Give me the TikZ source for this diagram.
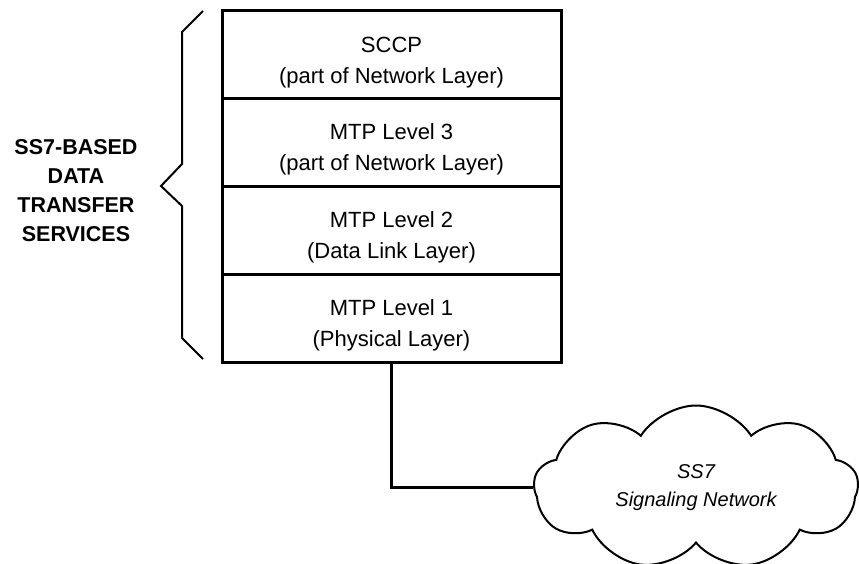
\documentclass[tikz,border=0pt]{standalone}
\usepackage{fontspec}
\setmainfont{Liberation Sans}
\usetikzlibrary{calc}
\usetikzlibrary{positioning}
\usetikzlibrary{shapes.symbols}

\tikzset{
  layer/.style={draw, line width=3pt, outer sep=0pt, minimum width=339pt,
    minimum height=87.75pt, align=center, font=\fontsize{22}{31}\selectfont,
    execute at begin node={\rule{0pt}{61pt}}},
  sidetext/.style={align=center, font=\fontsize{21.5}{29}\selectfont\bfseries},
  netcloud/.style={cloud, draw, line width=2pt, cloud puffs=9, cloud puff arc=115,
    cloud ignores aspect, minimum width=324pt, minimum height=164pt, align=center,
    font=\fontsize{20}{28}\selectfont\itshape},
  brace/.style={line width=2pt, line join=miter},
  wire/.style={line width=3pt},
}

\begin{document}
\begin{tikzpicture}[x=1pt,y=-1pt]
\useasboundingbox (0,0) rectangle (859,564);

% protocol stack
\coordinate (stacktop) at (391.5,11);
\node[layer, anchor=north] (sccp) at (stacktop) {SCCP\\(part of Network Layer)};
\node[layer, below=0pt of sccp] (mtp3) {MTP Level 3\\(part of Network Layer)};
\node[layer, below=0pt of mtp3] (mtp2) {MTP Level 2\\(Data Link Layer)};
\node[layer, below=0pt of mtp2] (mtp1) {MTP Level 1\\(Physical Layer)};

% brace on the left
\coordinate (b1) at (203,11);
\coordinate (b2) at (182,32);
\coordinate (b3) at (182,164);
\coordinate (tip) at (161,186);
\coordinate (b4) at (182,206);
\coordinate (b5) at (182,338);
\coordinate (b6) at (203,359);
\draw[brace] (b1)--(b2)--(b3)--(tip)--(b4)--(b5)--(b6);

\node[sidetext] (services) at (76,191) {SS7-BASED\\DATA\\TRANSFER\\SERVICES};

% network
\node[netcloud] (ss7net) at (696,487.5) {SS7\\Signaling Network};
\draw[wire] (mtp1.south) |- (ss7net.west);

\end{tikzpicture}
\end{document}
